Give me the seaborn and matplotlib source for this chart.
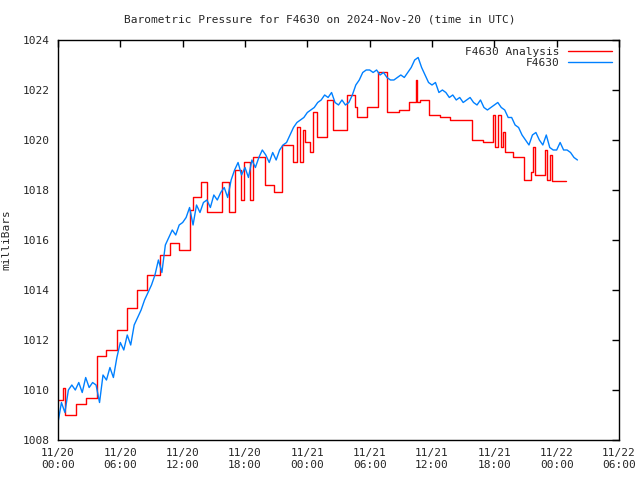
import matplotlib
matplotlib.use("Agg")
import matplotlib.pyplot as plt
import matplotlib.dates as mdates
import seaborn as sns
import pandas as pd
import numpy as np

# F4630 observations, one reading every 20 minutes from 2024-11-20 00:00 UTC
obs_pressure = [
    1008.7, 1009.5, 1009.1, 1010.0, 1010.2, 1010.0, 1010.3, 1009.9, 1010.5,
    1010.1, 1010.3, 1010.2, 1009.5, 1010.6, 1010.4, 1010.9, 1010.5, 1011.3,
    1011.9, 1011.6, 1012.2, 1011.8, 1012.6, 1012.9, 1013.2, 1013.6, 1013.9,
    1014.2, 1014.6, 1015.2, 1014.7, 1015.8, 1016.1, 1016.4, 1016.2, 1016.6,
    1016.7, 1016.9, 1017.3, 1016.6, 1017.4, 1017.1, 1017.5, 1017.6, 1017.3,
    1017.8, 1017.6, 1017.9, 1018.1, 1017.7, 1018.4, 1018.8, 1019.1, 1018.6,
    1018.9, 1018.5, 1019.2, 1018.9, 1019.3, 1019.6, 1019.4, 1019.1, 1019.5,
    1019.2, 1019.6, 1019.8, 1019.9, 1020.2, 1020.5, 1020.7, 1020.8, 1020.9,
    1021.1, 1021.2, 1021.3, 1021.5, 1021.6, 1021.8, 1021.7, 1021.9, 1021.5,
    1021.4, 1021.6, 1021.4, 1021.5, 1021.8, 1022.2, 1022.4, 1022.7, 1022.8,
    1022.8, 1022.7, 1022.8, 1022.6, 1022.7, 1022.5, 1022.4, 1022.4, 1022.5,
    1022.6, 1022.5, 1022.7, 1022.9, 1023.2, 1023.3, 1022.9, 1022.6, 1022.3,
    1022.2, 1022.3, 1021.9, 1022.0, 1021.9, 1021.7, 1021.8, 1021.6, 1021.7,
    1021.5, 1021.6, 1021.7, 1021.5, 1021.4, 1021.6, 1021.3, 1021.2, 1021.3,
    1021.4, 1021.5, 1021.3, 1021.2, 1020.9, 1020.9, 1020.6, 1020.5, 1020.2,
    1020.0, 1019.8, 1020.2, 1020.3, 1020.0, 1019.8, 1020.2, 1019.7, 1019.6,
    1019.6, 1019.9, 1019.6, 1019.6, 1019.5, 1019.3, 1019.2,
]

# F4630 Analysis: step values, change times in hours after 2024-11-20 00:00 UTC
ana_hours = [
    0.0, 0.48, 0.67, 1.73, 2.69, 3.75, 4.62, 5.68, 6.64, 7.60, 8.57, 9.82,
    10.78, 11.65, 12.70, 12.99, 13.76, 14.34, 15.78, 16.46, 17.04, 17.61,
    17.90, 18.48, 18.77, 19.92, 20.79, 21.56, 22.62, 23.00, 23.29, 23.58,
    23.77, 24.25, 24.54, 24.93, 25.89, 26.47, 27.81, 28.58, 28.78, 29.74,
    30.80, 31.67, 32.82, 33.78, 34.46, 34.55, 34.84, 35.71, 36.77, 37.73,
    39.85, 40.90, 41.87, 42.06, 42.35, 42.64, 42.83, 43.02, 43.79, 44.85,
    45.52, 45.72, 45.91, 46.87, 47.06, 47.35, 47.55, 48.89,
]
ana_pressure = [
    1009.6, 1010.1, 1009.0, 1009.45, 1009.7, 1011.35, 1011.6, 1012.4, 1013.3,
    1014.0, 1014.6, 1015.4, 1015.9, 1015.6, 1017.2, 1017.7, 1018.3, 1017.1,
    1018.3, 1017.1, 1018.8, 1017.6, 1019.1, 1017.6, 1019.3, 1018.2, 1017.9,
    1019.8, 1019.1, 1020.5, 1019.1, 1020.4, 1019.9, 1019.5, 1021.1, 1020.1,
    1021.6, 1020.4, 1021.8, 1021.3, 1020.9, 1021.3, 1022.7, 1021.1, 1021.2,
    1021.5, 1022.4, 1021.5, 1021.6, 1021.0, 1020.9, 1020.8, 1020.0, 1019.9,
    1021.0, 1019.7, 1021.0, 1019.7, 1020.3, 1019.5, 1019.3, 1018.4, 1018.7,
    1019.7, 1018.6, 1019.6, 1018.4, 1019.4, 1018.35, 1018.35,
]

start = pd.Timestamp("2024-11-20 00:00")
obs = pd.DataFrame({
    "time": pd.date_range(start, periods=len(obs_pressure), freq="20min"),
    "pressure": obs_pressure,
})
ana = pd.DataFrame({
    "time": start + pd.to_timedelta(ana_hours, unit="h"),
    "pressure": ana_pressure,
})

sns.set_style("white")
plt.rcParams["font.family"] = ["DejaVu Sans Mono"]
plt.rcParams["font.size"] = 8

fig = plt.figure(figsize=(6.4, 4.8), dpi=100)
ax = fig.add_axes([0.0906, 0.0833, 0.8766, 0.8334])

sns.lineplot(data=ana, x="time", y="pressure", ax=ax, color="#ff0000",
             lw=1, drawstyle="steps-post", estimator=None,
             label="F4630 Analysis")
sns.lineplot(data=obs, x="time", y="pressure", ax=ax, color="#0080ff",
             lw=1, estimator=None, label="F4630")

ax.set_xlim(start, start + pd.Timedelta(hours=54))
ax.set_ylim(1008, 1024)
ax.set_yticks(np.arange(1008, 1025, 2))
ax.xaxis.set_major_locator(mdates.HourLocator(byhour=[0, 6, 12, 18]))
ax.xaxis.set_major_formatter(mdates.DateFormatter("%m/%d\n%H:%M"))

ax.tick_params(direction="in", length=5, width=1, color="black",
               top=True, right=True, labelsize=8, pad=6)
for s in ax.spines.values():
    s.set_color("black")
    s.set_linewidth(1)

ax.set_xlabel("")
ax.set_ylabel("milliBars", fontsize=8, labelpad=8)
fig.suptitle("Barometric Pressure for F4630 on 2024-Nov-20 (time in UTC)",
             y=0.97, fontsize=8)

leg = ax.legend(loc="upper right", frameon=False, markerfirst=False,
                handlelength=4, fontsize=8, borderaxespad=0.2,
                labelspacing=0.1)
for t in leg.get_texts():
    t.set_ha("right")

fig.savefig("out.png", dpi=100)
